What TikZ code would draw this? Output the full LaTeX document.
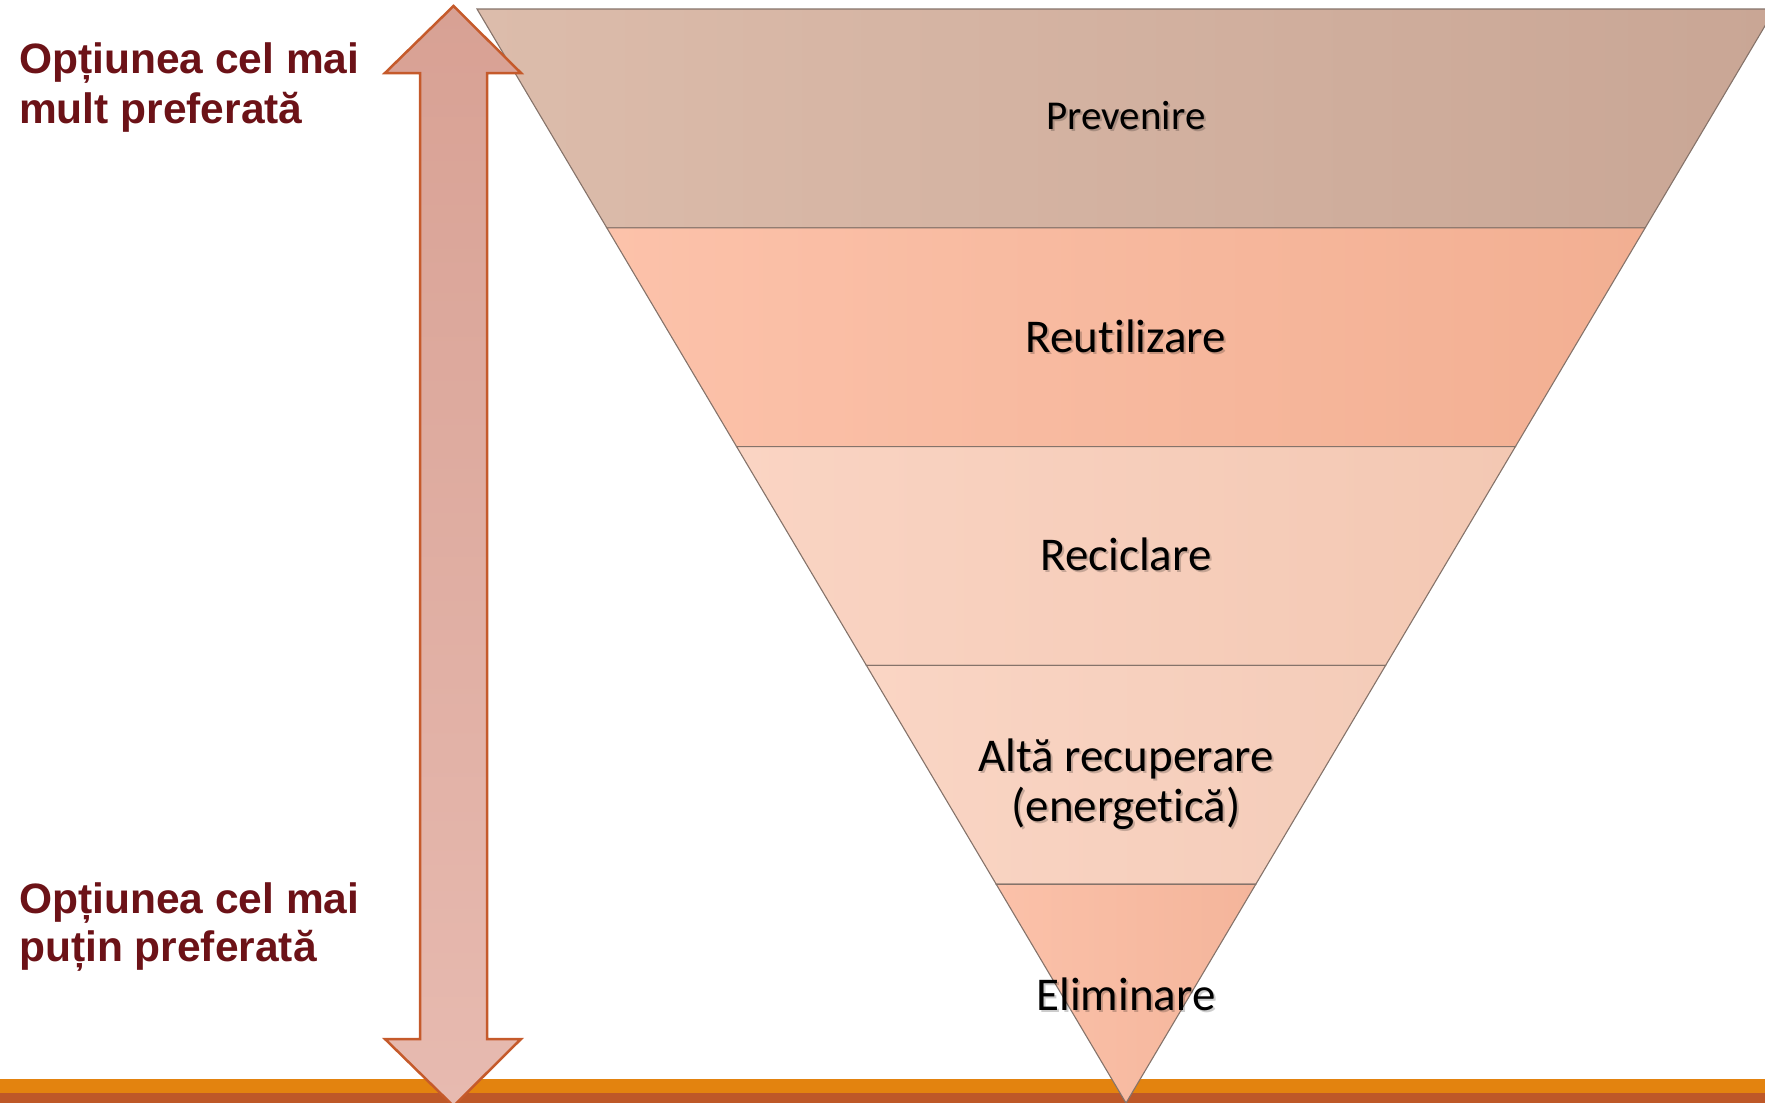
\documentclass[tikz,border=0pt]{standalone}
\usepackage{fontspec}
\setmainfont{Carlito}[Ligatures=NoCommon]
\newfontfamily\labfont{Liberation Sans}
\definecolor{edgec}{HTML}{85736A}
\definecolor{bAl}{HTML}{DCBCAB}
\definecolor{bAr}{HTML}{C9A695}
\definecolor{bBl}{HTML}{FCC2AA}
\definecolor{bBr}{HTML}{F2AF92}
\definecolor{bCl}{HTML}{FAD4C3}
\definecolor{bCr}{HTML}{F3C8B3}
\definecolor{bDl}{HTML}{FAD5C4}
\definecolor{bDr}{HTML}{F4CCB9}
\definecolor{bEl}{HTML}{FBC1A9}
\definecolor{bEr}{HTML}{F4B59B}
\definecolor{arrowc}{HTML}{C55A2B}
\definecolor{arrtop}{HTML}{D8A194}
\definecolor{arrbot}{HTML}{E7BAB0}
\definecolor{barorange}{HTML}{E3830F}
\definecolor{barbrown}{HTML}{BE5828}
\definecolor{sidec}{HTML}{6C1217}
\begin{document}
\begin{tikzpicture}[x=1pt,y=-1pt,
  band/.style={draw=edgec, line width=1.1pt, line join=miter},
  lbl/.style={text=black, inner sep=0pt, anchor=base},
  shd/.style={text=black, opacity=0.2, inner sep=0pt, anchor=base},
  big/.style={font=\fontsize{47}{50}\selectfont},
  small/.style={font=\fontsize{41}{46}\selectfont},
  side/.style={font=\labfont\bfseries\fontsize{42.5}{50}\selectfont, text=sidec, inner sep=0pt, anchor=base west}]
\useasboundingbox (0,0) rectangle (1765,1103);
\clip (0,0) rectangle (1765,1103);
% bottom bar
\fill[barorange] (0,1079) rectangle (1765,1093);
\fill[barbrown] (0,1093) rectangle (1765,1103);
% pyramid bands
\path[band, left color=bAl, right color=bAr] (477,9) -- (1775,9) -- (1645.2,227.8) -- (606.8,227.8) -- cycle;
\path[band, left color=bBl, right color=bBr] (606.8,227.8) -- (1645.2,227.8) -- (1515.4,446.6) -- (736.6,446.6) -- cycle;
\path[band, left color=bCl, right color=bCr] (736.6,446.6) -- (1515.4,446.6) -- (1385.6,665.4) -- (866.4,665.4) -- cycle;
\path[band, left color=bDl, right color=bDr] (866.4,665.4) -- (1385.6,665.4) -- (1255.8,884.2) -- (996.2,884.2) -- cycle;
\path[band, left color=bEl, right color=bEr] (996.2,884.2) -- (1255.8,884.2) -- (1126,1103) -- cycle;
% band labels (with soft shadow)
\node[shd, small] (s1) at (1128,131) {Prevenire};
\node[lbl, small] (prev) at (1126,129) {Prevenire};
\node[shd, big] (s2) at (1128,354) {Reutilizare};
\node[lbl, big] (reut) at (1126,352) {Reutilizare};
\node[shd, big] (s3) at (1128,572) {Reciclare};
\node[lbl, big] (reci) at (1126,570) {Reciclare};
\node[shd, big] (s4a) at (1128,773) {Altă recuperare};
\node[lbl, big] (alta) at (1126,771) {Altă recuperare};
\node[shd, big] (s4b) at (1128,823) {(energetică)};
\node[lbl, big] (ener) at (1126,821) {(energetică)};
\node[shd, big] (s5) at (1128,1012) {Eliminare};
\node[lbl, big] (elim) at (1126,1010) {Eliminare};
% double arrow
\path[draw=arrowc, line width=2.5pt, top color=arrtop, bottom color=arrbot]
  (453.5,6) -- (521,73) -- (487,73) -- (487,1039) -- (521,1039) -- (453.5,1106)
  -- (385,1039) -- (420,1039) -- (420,73) -- (385,73) -- cycle;
% side labels
\node[side] (t1) at (19,73) {Opțiunea cel mai};
\node[side] (t2) at (19,123) {mult preferată};
\node[side] (b1) at (19,913) {Opțiunea cel mai};
\node[side] (b2) at (19,961) {puțin preferată};
\end{tikzpicture}
\end{document}
